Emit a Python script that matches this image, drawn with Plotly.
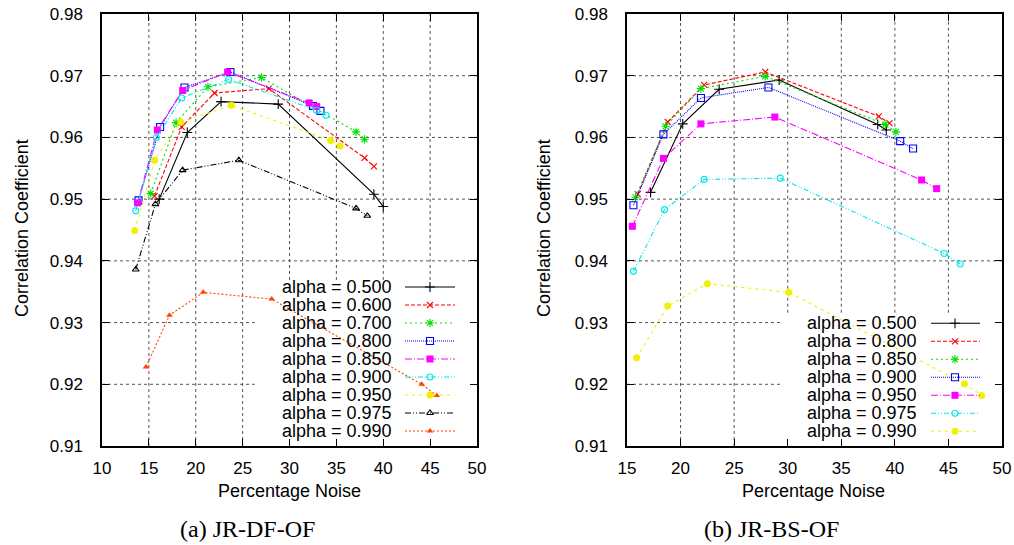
import plotly.graph_objects as go

W, H = 1014, 545

# ---------------- Data: panel (a) JR-DF-OF ----------------
a_labels = ["alpha = 0.500", "alpha = 0.600", "alpha = 0.700", "alpha = 0.800",
            "alpha = 0.850", "alpha = 0.900", "alpha = 0.950", "alpha = 0.975",
            "alpha = 0.990"]
a500_x = [16.1, 19.1, 22.7, 28.8, 39.0, 40.0]
a500_y = [0.9500, 0.9608, 0.9658, 0.9654, 0.9508, 0.9488]
a600_x = [15.6, 18.5, 22.0, 27.8, 38.0, 39.0]
a600_y = [0.9505, 0.9617, 0.9672, 0.9679, 0.9567, 0.9553]
a700_x = [15.2, 17.9, 21.3, 27.0, 37.1, 38.0]
a700_y = [0.9509, 0.9624, 0.9682, 0.9697, 0.9609, 0.9597]
a800_x = [13.9, 16.2, 18.8, 23.7, 32.5, 33.3]
a800_y = [0.9498, 0.9617, 0.9681, 0.9706, 0.9651, 0.9643]
a850_x = [13.8, 15.9, 18.6, 23.4, 32.1, 32.9]
a850_y = [0.9494, 0.9612, 0.9676, 0.9706, 0.9656, 0.9650]
a900_x = [13.6, 15.8, 18.5, 23.5, 32.9, 33.9]
a900_y = [0.9481, 0.9600, 0.9664, 0.9694, 0.9644, 0.9636]
a950_x = [13.5, 15.6, 18.4, 23.8, 34.4, 35.4]
a950_y = [0.9449, 0.9563, 0.9625, 0.9652, 0.9595, 0.9586]
a975_x = [13.6, 15.7, 18.6, 24.6, 37.1, 38.3]
a975_y = [0.9386, 0.9492, 0.9547, 0.9563, 0.9485, 0.9473]
a990_x = [14.7, 17.2, 20.8, 28.1, 44.1, 45.7]
a990_y = [0.9228, 0.9312, 0.9349, 0.9338, 0.9200, 0.9182]

# ---------------- Data: panel (b) JR-BS-OF ----------------
b_labels = ["alpha = 0.500", "alpha = 0.800", "alpha = 0.850", "alpha = 0.900",
            "alpha = 0.950", "alpha = 0.975", "alpha = 0.990"]
b500_x = [17.2, 20.2, 23.6, 29.2, 38.4, 39.2]
b500_y = [0.9511, 0.9622, 0.9678, 0.9693, 0.9621, 0.9612]
b800_x = [16.0, 18.8, 22.2, 27.9, 38.5, 39.5]
b800_y = [0.9508, 0.9625, 0.9685, 0.9706, 0.9634, 0.9623]
b850_x = [15.8, 18.6, 21.9, 27.9, 39.1, 40.1]
b850_y = [0.9503, 0.9618, 0.9679, 0.9699, 0.9621, 0.9609]
b900_x = [15.6, 18.4, 21.9, 28.2, 40.5, 41.7]
b900_y = [0.9490, 0.9605, 0.9664, 0.9681, 0.9594, 0.9582]
b950_x = [15.5, 18.4, 21.9, 28.8, 42.5, 43.9]
b950_y = [0.9456, 0.9566, 0.9622, 0.9633, 0.9531, 0.9517]
b975_x = [15.6, 18.5, 22.2, 29.3, 44.6, 46.1]
b975_y = [0.9383, 0.9483, 0.9532, 0.9534, 0.9412, 0.9395]
b990_x = [15.9, 18.8, 22.5, 30.1, 46.5, 48.1]
b990_y = [0.9243, 0.9327, 0.9363, 0.9349, 0.9201, 0.9182]

y_ticks = [0.91, 0.92, 0.93, 0.94, 0.95, 0.96, 0.97, 0.98]
a_x_ticks = [10, 15, 20, 25, 30, 35, 40, 45, 50]
b_x_ticks = [15, 20, 25, 30, 35, 40, 45, 50]

x_title = "Percentage Noise"
y_title = "Correlation Coefficient"
captions = ["(a) JR-DF-OF", "(b) JR-BS-OF"]

# ---------------- Styles (gnuplot-like line types) ----------------
LT = {
    "black":   dict(color="#000000", dash="solid", symbol="cross-thin-open", size=7),
    "red":     dict(color="#ff0000", dash="4px,2px", symbol="x-thin-open", size=6),
    "green":   dict(color="#00e000", dash="2px,3px", symbol="asterisk-open", size=7),
    "blue":    dict(color="#0000ff", dash="1px,1px", symbol="square-open", size=7),
    "magenta": dict(color="#ff00ff", dash="7px,2px,1px,2px", symbol="square", size=7),
    "cyan":    dict(color="#00e8e8", dash="5px,2px,1px,2px,1px,2px", symbol="circle-open", size=6),
    "yellow":  dict(color="#f0f000", dash="3px,4px", symbol="circle", size=7),
    "dashdot": dict(color="#000000", dash="6px,2px,1px,2px,1px,2px", symbol="triangle-up-open", size=6),
    "orange":  dict(color="#ff4500", dash="2px,2px", symbol="triangle-up", size=6),
}

a_series = [(a500_x, a500_y, "black"), (a600_x, a600_y, "red"), (a700_x, a700_y, "green"),
            (a800_x, a800_y, "blue"), (a850_x, a850_y, "magenta"), (a900_x, a900_y, "cyan"),
            (a950_x, a950_y, "yellow"), (a975_x, a975_y, "dashdot"), (a990_x, a990_y, "orange")]
b_series = [(b500_x, b500_y, "black"), (b800_x, b800_y, "red"), (b850_x, b850_y, "green"),
            (b900_x, b900_y, "blue"), (b950_x, b950_y, "magenta"), (b975_x, b975_y, "cyan"),
            (b990_x, b990_y, "yellow")]

FONT = "Liberation Sans, Arial, sans-serif"


def px(x):
    return x / W


def py(y):
    return 1 - y / H


def marker_of(st):
    open_ = st["symbol"].endswith("open")
    return dict(symbol=st["symbol"], size=st["size"], color=st["color"],
                line=dict(color=st["color"], width=1.1 if open_ else 0))


fig = go.Figure()

for (xs, ys, key), name in zip(a_series, a_labels):
    st = LT[key]
    fig.add_trace(go.Scatter(x=xs, y=ys, mode="lines+markers", name=name,
                             line=dict(color=st["color"], dash=st["dash"], width=1.1),
                             marker=marker_of(st), xaxis="x", yaxis="y", showlegend=False))
for (xs, ys, key), name in zip(b_series, b_labels):
    st = LT[key]
    fig.add_trace(go.Scatter(x=xs, y=ys, mode="lines+markers", name=name,
                             line=dict(color=st["color"], dash=st["dash"], width=1.1),
                             marker=marker_of(st), xaxis="x2", yaxis="y2", showlegend=False))

# ---------------- gnuplot-style keys (text left, sample right), in a window-pixel overlay ----------------
annotations = []
keys = [
    dict(series=a_series, labels=a_labels, text_right=394, x0=405, x1=455, xm=430, top=287.0),
    dict(series=b_series, labels=b_labels, text_right=919, x0=931, x1=980, xm=955, top=323.3),
]
ROW = 18.0
for k in keys:
    for i, ((_, _, key), lab) in enumerate(zip(k["series"], k["labels"])):
        st = LT[key]
        yr = k["top"] + i * ROW
        fig.add_trace(go.Scatter(x=[k["x0"], k["x1"]], y=[yr, yr], mode="lines",
                                 line=dict(color=st["color"], dash=st["dash"], width=1.1),
                                 xaxis="x3", yaxis="y3", showlegend=False, hoverinfo="skip"))
        fig.add_trace(go.Scatter(x=[k["xm"]], y=[yr], mode="markers", marker=marker_of(st),
                                 xaxis="x3", yaxis="y3", showlegend=False, hoverinfo="skip"))
        annotations.append(dict(text=lab, x=k["text_right"], y=yr, xref="x3", yref="y3",
                                xanchor="right", yanchor="middle", showarrow=False,
                                font=dict(family=FONT, size=18, color="black")))

# axis titles and captions
for cx in (289, 813):
    annotations.append(dict(text=x_title, x=px(cx), y=py(491), xref="paper", yref="paper",
                            xanchor="center", yanchor="middle", showarrow=False,
                            font=dict(family=FONT, size=18, color="black")))
for cx in (22, 544):
    annotations.append(dict(text=y_title, x=px(cx), y=py(228), xref="paper", yref="paper",
                            xanchor="center", yanchor="middle", showarrow=False, textangle=-90,
                            font=dict(family=FONT, size=18, color="black")))
for cx, cap in zip((247, 771), captions):
    annotations.append(dict(text=cap, x=px(cx), y=py(529), xref="paper", yref="paper",
                            xanchor="center", yanchor="middle", showarrow=False,
                            font=dict(family="Liberation Serif, Times New Roman, serif", size=24,
                                      color="black")))

# ---------------- dotted grid, interrupted where the key sits (as gnuplot does) ----------------
GRID = dict(color="#555555", width=1, dash="dot")
shapes = []
panels = [
    dict(xr="x", yr="y", xticks=a_x_ticks, xlo=10, xhi=50, key_x=26.3, key_y=0.9369),
    dict(xr="x2", yr="y2", xticks=b_x_ticks, xlo=15, xhi=50, key_x=29.3, key_y=0.9316),
]
for p in panels:
    for xv in p["xticks"]:
        if xv <= p["xlo"] or xv >= p["xhi"]:
            continue
        ybot = p["key_y"] if xv > p["key_x"] else y_ticks[0]
        shapes.append(dict(type="line", xref=p["xr"], yref=p["yr"], x0=xv, x1=xv,
                           y0=ybot, y1=y_ticks[-1], line=GRID, layer="below"))
    for yv in y_ticks[1:-1]:
        xend = p["key_x"] if yv < p["key_y"] else p["xhi"]
        shapes.append(dict(type="line", xref=p["xr"], yref=p["yr"], x0=p["xlo"], x1=xend,
                           y0=yv, y1=yv, line=GRID, layer="below"))

axis_common = dict(showline=True, linecolor="black", linewidth=1.5, mirror="ticks",
                   ticks="inside", ticklen=7, tickwidth=1, tickcolor="black",
                   showgrid=False, zeroline=False, automargin=False,
                   ticklabeloverflow="allow",
                   tickfont=dict(family=FONT, size=17, color="black"), fixedrange=True)

ydom = [py(446), py(14)]
fig.update_layout(
    width=W, height=H, margin=dict(l=0, r=0, t=0, b=0, autoexpand=False),
    paper_bgcolor="white", plot_bgcolor="rgba(0,0,0,0)",
    showlegend=False,
    xaxis=dict(domain=[px(102), px(477)], range=[10, 50], tickvals=a_x_ticks,
               anchor="y", ticklabelstandoff=6, **axis_common),
    yaxis=dict(domain=ydom, range=[0.91, 0.98], tickvals=y_ticks, tickformat=".2f",
               anchor="x", ticklabelstandoff=14, **axis_common),
    xaxis2=dict(domain=[px(627), px(1002)], range=[15, 50], tickvals=b_x_ticks,
                anchor="y2", ticklabelstandoff=6, **axis_common),
    yaxis2=dict(domain=ydom, range=[0.91, 0.98], tickvals=y_ticks, tickformat=".2f",
                anchor="x2", ticklabelstandoff=14, **axis_common),
    xaxis3=dict(domain=[0, 1], range=[0, W], visible=False, anchor="y3", fixedrange=True,
                automargin=False),
    yaxis3=dict(domain=[0, 1], range=[H, 0], visible=False, anchor="x3", fixedrange=True,
                automargin=False),
    annotations=annotations,
    shapes=shapes,
)

fig.write_html("out.html", config={"displayModeBar": False},
               post_script="document.body.style.margin='0px';")
